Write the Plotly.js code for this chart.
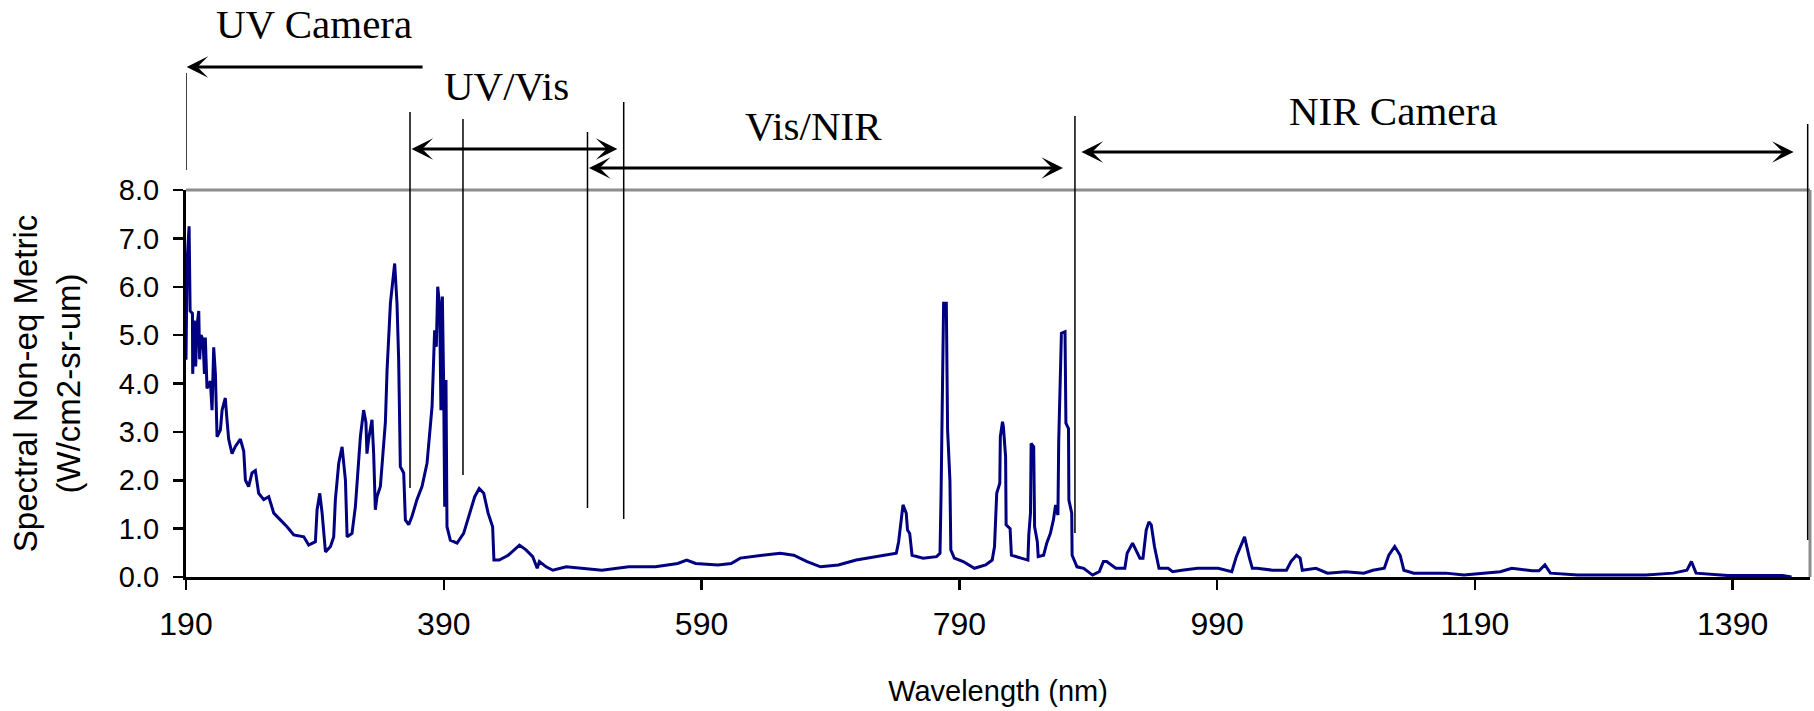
<!DOCTYPE html>
<html>
<head>
<meta charset="utf-8">
<script src="https://cdn.plot.ly/plotly-3.0.1.min.js"></script>
<style>html,body{margin:0;padding:0;background:#fff}#chart{width:1814px;height:711px}</style>
</head>
<body>
<div id="chart"></div>
<script>
// Wavelength (nm) and spectral non-equilibrium metric (W/cm2-sr-um)
const wavelength_nm = [
190.0,190.8,192.4,193.2,195.0,195.2,196.5,197.5,198.6,199.9,200.6,201.7,203.2,204.3,205.0,206.3,208.9,210.2,211.5,212.8,
214.1,216.7,218.0,220.5,221.8,223.1,225.7,228.3,232.2,234.8,236.1,238.6,241.2,243.8,246.4,250.3,254.2,258.1,263.2,268.4,
273.6,281.4,285.2,290.4,291.7,293.8,295.6,296.9,298.2,302.1,304.6,305.9,308.5,311.1,313.7,315.0,318.8,321.4,322.7,325.3,
327.8,329.6,330.4,331.7,334.3,335.6,336.9,338.2,340.8,342.1,344.7,346.0,348.6,351.9,353.7,355.0,356.3,358.9,360.2,362.8,
365.3,369.2,373.1,377.0,379.6,380.9,382.9,384.2,385.3,386.8,387.8,388.9,389.9,390.7,391.7,392.5,395.1,
400.3,405.4,410.6,414.0,417.5,421.0,424.4,427.9,428.9,433.0,440.0,448.7,453.8,459.0,462.5,464.2,469.4,474.6,485.0,498.8,
512.7,533.5,554.2,571.5,578.5,585.4,602.7,613.0,620.0,637.3,651.1,661.5,671.9,682.3,696.1,710.0,727.3,741.1,742.9,744.6,
746.3,748.8,749.8,751.5,753.3,761.9,772.3,775.0,775.8,777.8,779.9,780.9,782.7,783.4,786.1,793.0,801.7,810.4,815.5,817.3,
819.0,821.4,821.8,823.5,824.2,825.9,826.3,829.4,830.4,838.0,843.2,843.9,845.2,845.7,847.7,848.4,850.5,851.2,855.4,857.8,
860.6,863.0,864.7,866.5,867.1,869.2,872.0,872.7,874.7,875.0,877.2,877.5,881.3,886.5,893.4,898.6,
901.8,904.3,907.8,911.4,918.4,920.2,924.4,927.2,930.1,932.5,935.0,937.1,938.9,941.4,944.2,944.9,952.0,955.5,962.6,974.9,
990.8,1001.4,1004.9,1011.3,1014.8,1017.3,1020.8,1033.2,1043.8,1047.3,1051.5,1054.4,1056.1,1066.7,1075.6,1089.7,1103.8,1110.9,1119.7,1123.2,
1127.8,1132.0,1134.9,1142.6,1153.2,1167.4,1181.5,1199.1,1209.7,1218.6,1234.5,1239.7,1244.3,1248.6,1269.8,1287.4,1322.7,1343.9,1354.5,1358.0,
1361.6,1386.3,1411.0,1428.7,1435.7
];
const metric = [
4.49,6.5,7.25,5.5,5.45,4.2,5.3,4.35,5.2,5.5,4.5,5.0,4.9,4.2,4.95,3.9,4.05,3.45,4.75,4.2,
2.9,3.04,3.45,3.7,3.25,2.85,2.55,2.7,2.85,2.6,2.0,1.87,2.15,2.2,1.73,1.6,1.66,1.32,1.18,1.04,
0.87,0.83,0.66,0.73,1.39,1.73,1.32,0.83,0.52,0.63,0.83,1.6,2.35,2.69,2.0,0.83,0.90,1.45,1.94,2.9,
3.45,3.2,2.55,2.85,3.25,2.55,1.39,1.66,1.87,2.35,3.2,4.28,5.66,6.48,5.66,4.49,2.28,2.15,1.18,1.08,
1.25,1.6,1.87,2.35,3.04,3.52,5.1,4.76,6.0,5.6,3.45,5.8,4.0,1.45,4.07,1.04,0.76,
0.70,0.9,1.39,1.66,1.83,1.73,1.32,1.04,0.35,0.35,0.45,0.66,0.56,0.42,0.18,0.32,0.21,0.14,0.21,0.18,
0.14,0.21,0.21,0.28,0.35,0.28,0.25,0.28,0.39,0.45,0.49,0.45,0.32,0.21,0.25,0.35,0.42,0.49,0.73,1.18,
1.49,1.32,0.97,0.9,0.45,0.39,0.42,0.49,1.66,5.66,5.66,3.04,2.0,0.56,0.39,0.32,0.18,0.25,0.35,0.63,
1.73,1.94,2.9,3.21,3.1,2.49,1.08,1.0,0.45,0.39,0.35,0.87,1.32,2.76,2.69,1.04,0.73,0.42,0.45,0.70,
0.9,1.18,1.49,1.28,2.8,5.04,5.07,3.18,3.07,1.59,1.32,0.45,0.21,0.18,0.04,0.11,
0.32,0.32,0.25,0.18,0.18,0.49,0.70,0.56,0.39,0.39,0.97,1.14,1.08,0.63,0.25,0.18,0.18,0.11,0.14,0.18,
0.18,0.11,0.42,0.83,0.42,0.18,0.18,0.14,0.14,0.32,0.45,0.39,0.14,0.18,0.08,0.11,0.08,0.14,0.18,0.45,
0.63,0.45,0.14,0.08,0.08,0.08,0.04,0.09,0.11,0.18,0.13,0.13,0.25,0.08,0.04,0.04,0.04,0.08,0.14,0.32,
0.08,0.03,0.03,0.03,0.0
];

// Band boundaries (nm) and labelled camera ranges
const boundary_nm = [190, 363.8, 404.9, 501.5, 529.6, 879.7, 1448.2];
const band_labels = ["UV Camera", "UV/Vis", "Vis/NIR", "NIR Camera"];
const band_label_nm = [289.3, 438.3, 677.2, 1126.8];
const band_arrow_from = [374.7, 363.8, 501.5, 883.6];
const band_arrow_to = [190.5, 524.7, 870.4, 1437.3];

const xTicks = [190, 390, 590, 790, 990, 1190, 1390];
const yTicks = [0, 1, 2, 3, 4, 5, 6, 7, 8];

// layout-only positions (paper coords)
const boundaryTop = [1.3023, 1.2016, 1.1835, 1.1499, 1.2274, 1.1912, 1.1705];
const boundaryBottom = [1.0517, 0.2300, 0.2636, 0.1783, 0.1499, 0.1137, 0.0956];
const labelY = [1.4302, 1.2700, 1.1654, 1.2054];
const arrowY = [1.3178, 1.1059, 1.0568, 1.0982];
const arrowBoth = [false, true, true, true];

const shapes = [];
boundary_nm.forEach((b, i) => {
  shapes.push({type: 'line', xref: 'x', yref: 'paper', x0: b, x1: b,
    y0: boundaryBottom[i], y1: boundaryTop[i], line: {color: '#000000', width: 1.5}});
});
// grey plot-area frame at top and right
shapes.push({type: 'line', xref: 'paper', yref: 'paper', x0: 0, x1: 1, y0: 1, y1: 1,
  line: {color: '#8c8c8c', width: 3}, layer: 'below'});
shapes.push({type: 'line', xref: 'paper', yref: 'paper', x0: 1, x1: 1, y0: 0, y1: 1,
  line: {color: '#8c8c8c', width: 3}, layer: 'below'});

const annotations = [];
band_labels.forEach((t, i) => {
  annotations.push({text: t, xref: 'x', yref: 'paper', x: band_label_nm[i], y: labelY[i],
    xanchor: 'center', yanchor: 'middle', showarrow: false,
    font: {family: '"Liberation Serif", "Times New Roman", serif', size: 41, color: '#000'}});
  annotations.push({text: '', xref: 'x', yref: 'paper', x: band_arrow_to[i], y: arrowY[i],
    axref: 'x', ayref: 'pixel', ax: band_arrow_from[i], ay: 0,
    showarrow: true, arrowhead: 3, arrowsize: 1.2, arrowwidth: 3, arrowcolor: '#000',
    startarrowhead: 3, startarrowsize: 1.2,
    arrowside: arrowBoth[i] ? 'end+start' : 'end', standoff: 0, startstandoff: 0});
});

const sans = '"Liberation Sans", Arial, sans-serif';

const data = [{
  x: wavelength_nm, y: metric, type: 'scatter', mode: 'lines',
  line: {color: '#000080', width: 3}, hoverinfo: 'x+y', showlegend: false
}];

const layout = {
  width: 1814, height: 711,
  margin: {l: 186, r: 4, t: 190, b: 134},
  paper_bgcolor: '#ffffff', plot_bgcolor: '#ffffff',
  font: {family: sans, color: '#000'},
  showlegend: false,
  xaxis: {
    range: [190, 1450], tickmode: 'array', tickvals: xTicks, ticktext: xTicks.map(String),
    showgrid: false, zeroline: false, showline: true, linecolor: '#000', linewidth: 3,
    ticks: 'outside', ticklen: 10, tickwidth: 2.5, tickcolor: '#000',
    tickfont: {family: sans, size: 32, color: '#000'}, ticklabelstandoff: 7,
    title: {text: 'Wavelength (nm)', font: {family: sans, size: 29, color: '#000'}, standoff: 40}
  },
  yaxis: {
    range: [0, 8], tickmode: 'array', tickvals: yTicks, ticktext: yTicks.map(v => v.toFixed(1)),
    showgrid: false, zeroline: false, showline: true, linecolor: '#000', linewidth: 3,
    ticks: 'outside', ticklen: 10, tickwidth: 2.5, tickcolor: '#000',
    tickfont: {family: sans, size: 29, color: '#000'}, ticklabelstandoff: 8,
    title: {text: 'Spectral Non-eq Metric<br>(W/cm2-sr-um)', font: {family: sans, size: 33, color: '#000'}, standoff: 29}
  },
  shapes: shapes,
  annotations: annotations
};

Plotly.newPlot('chart', data, layout, {displayModeBar: false, staticPlot: true});
</script>
</body>
</html>
